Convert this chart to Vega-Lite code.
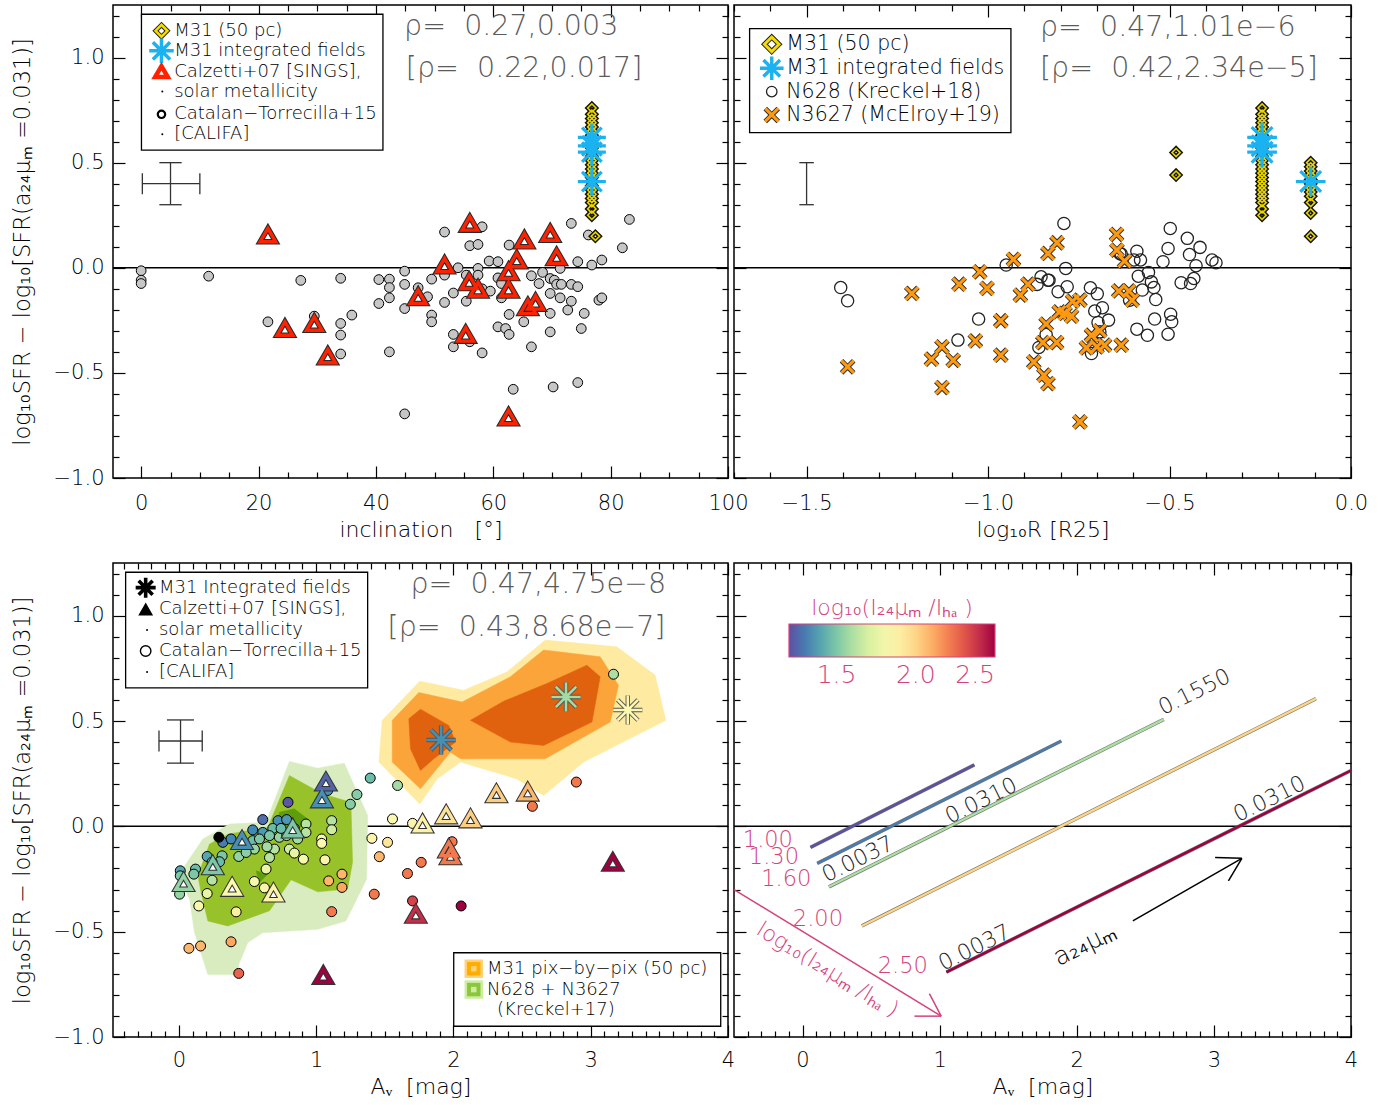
{
"$schema":"https://vega.github.io/schema/vega-lite/v6.json",
"padding":{"left":10,"top":3,"right":5,"bottom":2},
"background":"white",
"config":{
 "view":{"stroke":"black","strokeWidth":1.5},
 "font":"DejaVu Sans",
 "axis":{"grid":false,"domain":false,"ticks":true,"tickColor":"black","tickWidth":1.2,"labelFont":"DejaVu Sans","labelFontSize":21,"labelColor":"black","labelFontWeight":200,"titleFont":"DejaVu Sans","titleFontSize":22,"titleFontWeight":200,"titleColor":"black","labelOverlap":false,"labelFlush":false,"labelBound":false},
 "text":{"font":"DejaVu Sans"}
},
"datasets":{
 "tlc":[{"x":0,"y":-0.014},{"x":0,"y":-0.059},{"x":0,"y":-0.075},{"x":11.5,"y":-0.04},{"x":27.2,"y":-0.06},{"x":21.6,"y":-0.257},{"x":29.5,"y":-0.23},{"x":34,"y":-0.05},{"x":35.9,"y":-0.225},{"x":34,"y":-0.265},{"x":34,"y":-0.32},{"x":34,"y":-0.41},{"x":40.5,"y":-0.056},{"x":42.3,"y":-0.054},{"x":42.3,"y":-0.094},{"x":42.3,"y":-0.143},{"x":40.5,"y":-0.17},{"x":44.9,"y":-0.016},{"x":44.9,"y":-0.079},{"x":44.9,"y":-0.194},{"x":42.3,"y":-0.4},{"x":44.9,"y":-0.695},{"x":47.2,"y":-0.095},
  {"x":49.5,"y":-0.054},{"x":48.8,"y":-0.138},{"x":51.7,"y":0.17},{"x":51.7,"y":-0.035},{"x":51.7,"y":-0.165},{"x":49.5,"y":-0.225},{"x":49.5,"y":-0.257},{"x":53.2,"y":-0.12},{"x":53.2,"y":-0.317},{"x":53.2,"y":-0.376},{"x":54,"y":0},{"x":55.4,"y":-0.035},{"x":55.4,"y":-0.159},{"x":56,"y":0.105},{"x":57.4,"y":0.111},{"x":58.1,"y":0.195},{"x":57.4,"y":-0.003},{"x":57.4,"y":-0.035},{"x":58.1,"y":-0.1},{"x":59.5,"y":-0.111},{"x":56,"y":-0.352},{"x":58.1,"y":-0.405},{"x":59.3,"y":0.032},{"x":60.8,"y":0.029},{"x":60.8,"y":-0.048},{"x":61.4,"y":-0.075},{"x":61.4,"y":-0.143},{"x":62.7,"y":0.108},{"x":62.7,"y":-0.222},{"x":60.8,"y":-0.281},{"x":62.1,"y":-0.289},{"x":62.7,"y":-0.317},{"x":63.4,"y":-0.578},{"x":65.2,"y":-0.257},{"x":66.5,"y":-0.038},{"x":67.8,"y":-0.075},{"x":66.5,"y":-0.376},{"x":68.4,"y":-0.022},{"x":69.7,"y":-0.051},{"x":70.4,"y":-0.059},{"x":70.8,"y":-0.079},{"x":71.6,"y":-0.079},{"x":69.7,"y":-0.122},{"x":71.4,"y":-0.143},{"x":69.7,"y":-0.217},{"x":69.7,"y":-0.305},{"x":72.7,"y":-0.201},{"x":73.3,"y":-0.159},{"x":73.3,"y":-0.079},{"x":71.4,"y":-0.003},{"x":73.3,"y":0.211},{"x":74.4,"y":0.029},{"x":74.4,"y":-0.09},{"x":75.5,"y":-0.217},{"x":75,"y":-0.289},{"x":74.4,"y":-0.546},{"x":70.2,"y":-0.567},{"x":76.2,"y":0.156},{"x":76.8,"y":0.013},{"x":78.5,"y":0.037},{"x":78,"y":-0.154},{"x":78.5,"y":-0.143},{"x":82,"y":0.095},{"x":83.2,"y":0.23}],
 "tlt":[{"x":21.6,"y":0.156},{"x":24.5,"y":-0.289},{"x":29.5,"y":-0.265},{"x":31.8,"y":-0.42},{"x":47.2,"y":-0.138},{"x":56,"y":0.211},{"x":51.7,"y":0.013},{"x":55.9,"y":-0.067},{"x":57.4,"y":-0.102},{"x":55.3,"y":-0.317},{"x":62.6,"y":-0.019},{"x":64,"y":0.037},{"x":65.3,"y":0.132},{"x":62.6,"y":-0.102},{"x":65.9,"y":-0.186},{"x":67.2,"y":-0.165},{"x":69.7,"y":0.163},{"x":70.8,"y":0.052},{"x":62.6,"y":-0.71}],
 "m31d_tl":[{"x":76.8,"y":0.76},{"x":76.8,"y":0.73},{"x":76.8,"y":0.71},{"x":76.8,"y":0.69},{"x":76.8,"y":0.67},{"x":76.8,"y":0.65},{"x":76.8,"y":0.63},{"x":76.8,"y":0.61},{"x":76.8,"y":0.59},{"x":76.8,"y":0.57},{"x":76.8,"y":0.55},{"x":76.8,"y":0.53},{"x":76.8,"y":0.51},{"x":76.8,"y":0.49},{"x":76.8,"y":0.47},{"x":76.8,"y":0.45},{"x":76.8,"y":0.43},{"x":76.8,"y":0.41},{"x":76.8,"y":0.39},{"x":76.8,"y":0.37},{"x":76.8,"y":0.35},{"x":76.8,"y":0.33},{"x":76.8,"y":0.31},{"x":76.8,"y":0.28},{"x":76.8,"y":0.25},{"x":77.4,"y":0.15}],
 "m31a_tl":[{"x":76.8,"y":0.62},{"x":76.8,"y":0.58},{"x":76.8,"y":0.55},{"x":76.8,"y":0.41}],
 "m31d_tr":[{"x":-0.245,"y":0.76},{"x":-0.245,"y":0.73},{"x":-0.245,"y":0.71},{"x":-0.245,"y":0.69},{"x":-0.245,"y":0.67},{"x":-0.245,"y":0.65},{"x":-0.245,"y":0.63},{"x":-0.245,"y":0.61},{"x":-0.245,"y":0.59},{"x":-0.245,"y":0.57},{"x":-0.245,"y":0.55},{"x":-0.245,"y":0.53},{"x":-0.245,"y":0.51},{"x":-0.245,"y":0.49},{"x":-0.245,"y":0.47},{"x":-0.245,"y":0.45},{"x":-0.245,"y":0.43},{"x":-0.245,"y":0.41},{"x":-0.245,"y":0.39},{"x":-0.245,"y":0.37},{"x":-0.245,"y":0.35},{"x":-0.245,"y":0.33},{"x":-0.245,"y":0.31},{"x":-0.245,"y":0.28},{"x":-0.245,"y":0.25},
  {"x":-0.111,"y":0.5},{"x":-0.111,"y":0.48},{"x":-0.111,"y":0.46},{"x":-0.111,"y":0.44},{"x":-0.111,"y":0.42},{"x":-0.111,"y":0.4},{"x":-0.111,"y":0.38},{"x":-0.111,"y":0.36},{"x":-0.111,"y":0.34},{"x":-0.111,"y":0.31},{"x":-0.111,"y":0.26},{"x":-0.111,"y":0.15},{"x":-0.482,"y":0.548},{"x":-0.482,"y":0.441}],
 "m31a_tr":[{"x":-0.245,"y":0.62},{"x":-0.245,"y":0.58},{"x":-0.245,"y":0.55},{"x":-0.111,"y":0.41}],
 "trc":[{"x":-1.406,"y":-0.094},{"x":-1.387,"y":-0.157},{"x":-1.026,"y":-0.244},{"x":-1.083,"y":-0.344},{"x":-0.95,"y":0.013},{"x":-0.854,"y":-0.043},{"x":-0.865,"y":-0.079},{"x":-0.835,"y":-0.059},{"x":-0.84,"y":-0.317},{"x":-0.86,"y":-0.379},{"x":-0.791,"y":0.211},{"x":-0.786,"y":-0.003},{"x":-0.832,"y":-0.059},{"x":-0.807,"y":-0.114},{"x":-0.782,"y":-0.09},{"x":-0.718,"y":-0.095},{"x":-0.699,"y":-0.124},{"x":-0.706,"y":-0.206},{"x":-0.685,"y":-0.19},{"x":-0.668,"y":-0.249},{"x":-0.697,"y":-0.26},{"x":-0.692,"y":-0.305},{"x":-0.715,"y":-0.408},{"x":-0.633,"y":0.065},{"x":-0.59,"y":0.079},{"x":-0.58,"y":0.037},{"x":-0.598,"y":0.037},{"x":-0.61,"y":-0.154},{"x":-0.586,"y":-0.04},{"x":-0.575,"y":-0.106},{"x":-0.558,"y":-0.022},{"x":-0.55,"y":-0.067},{"x":-0.543,"y":-0.094},{"x":-0.538,"y":-0.151},{"x":-0.541,"y":-0.244},{"x":-0.59,"y":-0.292},{"x":-0.561,"y":-0.321},{"x":-0.504,"y":-0.316},{"x":-0.494,"y":-0.257},{"x":-0.497,"y":-0.221},{"x":-0.518,"y":0.029},{"x":-0.504,"y":0.092},{"x":-0.498,"y":0.187},{"x":-0.451,"y":0.14},{"x":-0.445,"y":0.063},{"x":-0.416,"y":0.097},{"x":-0.427,"y":0.01},{"x":-0.433,"y":-0.051},{"x":-0.442,"y":-0.075},{"x":-0.468,"y":-0.071},{"x":-0.383,"y":0.037},{"x":-0.372,"y":0.024},{"x":-0.637,"y":0.068}],
 "trx":[{"x":-1.387,"y":-0.471},{"x":-1.21,"y":-0.122},{"x":-1.08,"y":-0.078},{"x":-1.023,"y":-0.019},{"x":-1.003,"y":-0.098},{"x":-0.93,"y":0.04},{"x":-0.835,"y":0.068},{"x":-0.89,"y":-0.078},{"x":-0.911,"y":-0.13},{"x":-0.965,"y":-0.252},{"x":-1.035,"y":-0.348},{"x":-1.127,"y":-0.376},{"x":-1.156,"y":-0.435},{"x":-1.096,"y":-0.44},{"x":-1.127,"y":-0.57},{"x":-0.965,"y":-0.416},{"x":-0.84,"y":-0.268},{"x":-0.849,"y":-0.356},{"x":-0.874,"y":-0.448},{"x":-0.846,"y":-0.511},{"x":-0.835,"y":-0.551},{"x":-0.81,"y":0.119},{"x":-0.646,"y":0.159},{"x":-0.645,"y":0.084},{"x":-0.624,"y":0.032},{"x":-0.64,"y":-0.11},{"x":-0.612,"y":-0.11},{"x":-0.603,"y":-0.154},{"x":-0.767,"y":-0.159},{"x":-0.747,"y":-0.154},{"x":-0.804,"y":-0.21},{"x":-0.788,"y":-0.217},{"x":-0.77,"y":-0.23},{"x":-0.811,"y":-0.356},{"x":-0.715,"y":-0.321},{"x":-0.692,"y":-0.3},{"x":-0.729,"y":-0.381},{"x":-0.7,"y":-0.376},{"x":-0.679,"y":-0.368},{"x":-0.633,"y":-0.368},{"x":-0.747,"y":-0.733}],
 "blc":[{"x":1.394,"y":0.229,"c":1.46},{"x":1.297,"y":0.151,"c":1.52},{"x":1.249,"y":0.105,"c":1.52},{"x":1.593,"y":0.194,"c":1.58},{"x":1.556,"y":0.035,"c":1.85},{"x":1.702,"y":0.014,"c":1.87},{"x":1.406,"y":-0.057,"c":1.87},{"x":1.52,"y":-0.076,"c":1.93},{"x":1.46,"y":-0.144,"c":2.08},{"x":1.765,"y":-0.171,"c":2.22},{"x":1.665,"y":-0.224,"c":2.22},{"x":1.423,"y":-0.322,"c":2.22},{"x":1.702,"y":-0.354,"c":2.35},{"x":0.795,"y":0.114,"c":1.22},{"x":0.611,"y":0.032,"c":1.27},{"x":0.722,"y":0.027,"c":1.35},{"x":0.785,"y":0.032,"c":1.37},{"x":0.538,"y":-0.017,"c":1.33},{"x":0.611,"y":-0.029,"c":1.37},{"x":0.684,"y":-0.01,"c":1.46},{"x":0.32,"y":-0.076,"c":1.3},{"x":0.38,"y":-0.06,"c":1.33},{"x":0.538,"y":-0.068,"c":1.46},{"x":0.587,"y":-0.06,"c":1.5},{"x":0.66,"y":-0.044,"c":1.5},{"x":0.732,"y":-0.052,"c":1.55},{"x":0.785,"y":-0.044,"c":1.55},{"x":0.926,"y":0.011,"c":1.62},{"x":0.926,"y":-0.029,"c":1.62},{"x":0.865,"y":-0.06,"c":1.58},{"x":0.805,"y":-0.108,"c":1.68},{"x":0.841,"y":-0.127,"c":1.76},{"x":0.907,"y":-0.156,"c":1.83},{"x":0.696,"y":-0.108,"c":1.62},{"x":0.642,"y":-0.097,"c":1.58},{"x":0.66,"y":-0.148,"c":1.62},{"x":0.55,"y":-0.108,"c":1.56},{"x":0.478,"y":-0.084,"c":1.53},{"x":0.436,"y":-0.143,"c":1.55},{"x":0.315,"y":-0.14,"c":1.5},{"x":0.296,"y":-0.168,"c":1.46},{"x":0.206,"y":-0.143,"c":1.4},{"x":0.242,"y":-0.17,"c":1.5},{"x":0.121,"y":-0.203,"c":1.46},{"x":0.109,"y":-0.227,"c":1.5},{"x":0.01,"y":-0.211,"c":1.4},{"x":0.01,"y":-0.235,"c":1.5},{"x":0.005,"y":-0.322,"c":1.55},{"x":0.242,"y":-0.256,"c":1.62},{"x":0.206,"y":-0.319,"c":1.76},{"x":0.145,"y":-0.378,"c":1.83},{"x":0.417,"y":-0.406,"c":1.9},{"x":0.635,"y":-0.203,"c":1.76},{"x":0.55,"y":-0.262,"c":1.83},{"x":0.623,"y":-0.292,"c":1.87},{"x":1.04,"y":-0.06,"c":1.83},{"x":1.04,"y":-0.081,"c":1.85},{"x":1.064,"y":-0.159,"c":1.87},{"x":1.113,"y":0.027,"c":1.62},{"x":1.113,"y":-0.016,"c":1.68},{"x":1.091,"y":-0.259,"c":2.08},{"x":1.188,"y":-0.227,"c":2.08},{"x":1.188,"y":-0.29,"c":2.12},{"x":1.113,"y":-0.405,"c":2.22},{"x":0.073,"y":-0.579,"c":2.08},{"x":0.158,"y":-0.568,"c":2.08},{"x":0.38,"y":-0.548,"c":2.12},{"x":0.436,"y":-0.698,"c":2.27},{"x":0.744,"y":-0.01,"c":1.46},{"x":0.841,"y":-0.01,"c":1.5},{"x":0.49,"y":-0.124,"c":1.53},{"x":1.084,"y":0.17,"c":1.35},{"x":2.056,"y":-0.378,"c":2.5},{"x":1.99,"y":-0.073,"c":2.22},{"x":2.575,"y":0.095,"c":2.22},{"x":2.895,"y":0.21,"c":2.22},{"x":3.166,"y":0.722,"c":1.6}],
 "blk":[{"x":0.291,"y":-0.052}],
 "blt":[{"x":1.071,"y":0.21,"c":1.25},{"x":1.042,"y":0.13,"c":1.35},{"x":0.829,"y":-0.013,"c":1.5},{"x":0.46,"y":-0.068,"c":1.35},{"x":0.247,"y":-0.187,"c":1.5},{"x":0.034,"y":-0.267,"c":1.55},{"x":0.388,"y":-0.29,"c":1.85},{"x":0.689,"y":-0.317,"c":1.88},{"x":1.726,"y":-0.418,"c":2.4},{"x":1.052,"y":-0.708,"c":2.5},{"x":1.775,"y":0.011,"c":1.88},{"x":1.947,"y":0.054,"c":1.95},{"x":2.124,"y":0.035,"c":2.02},{"x":2.313,"y":0.154,"c":2.02},{"x":2.541,"y":0.162,"c":2.08},{"x":1.966,"y":-0.108,"c":2.22},{"x":1.978,"y":-0.14,"c":2.22},{"x":3.161,"y":-0.171,"c":2.5}],
 "bla":[{"x":1.91,"y":0.41,"c":1.35},{"x":2.82,"y":0.614,"c":1.58},{"x":3.27,"y":0.552,"c":1.85}],
 "blp":[
  {"p":"Y1","i":1,"x":1.457,"y":0.305},{"p":"Y1","i":2,"x":1.481,"y":0.503},{"p":"Y1","i":3,"x":1.755,"y":0.689},{"p":"Y1","i":4,"x":2.075,"y":0.646},{"p":"Y1","i":5,"x":2.39,"y":0.733},{"p":"Y1","i":6,"x":2.669,"y":0.884},{"p":"Y1","i":7,"x":3.19,"y":0.852},{"p":"Y1","i":8,"x":3.469,"y":0.718},{"p":"Y1","i":9,"x":3.547,"y":0.503},{"p":"Y1","i":10,"x":2.948,"y":0.305},{"p":"Y1","i":11,"x":2.657,"y":0.146},{"p":"Y1","i":12,"x":2.463,"y":0.225},{"p":"Y1","i":13,"x":2.051,"y":0.305},{"p":"Y1","i":14,"x":1.881,"y":0.225},{"p":"Y1","i":15,"x":1.755,"y":0.106},
  {"p":"O1","i":1,"x":1.554,"y":0.503},{"p":"O1","i":2,"x":1.748,"y":0.635},{"p":"O1","i":3,"x":2.063,"y":0.59},{"p":"O1","i":4,"x":2.415,"y":0.71},{"p":"O1","i":5,"x":2.657,"y":0.837},{"p":"O1","i":6,"x":3.069,"y":0.805},{"p":"O1","i":7,"x":3.202,"y":0.67},{"p":"O1","i":8,"x":3.142,"y":0.495},{"p":"O1","i":9,"x":2.669,"y":0.321},{"p":"O1","i":10,"x":2.051,"y":0.321},{"p":"O1","i":11,"x":1.978,"y":0.352},{"p":"O1","i":12,"x":1.76,"y":0.178},{"p":"O1","i":13,"x":1.554,"y":0.305},
  {"p":"O2a","i":1,"x":1.675,"y":0.511},{"p":"O2a","i":2,"x":1.76,"y":0.556},{"p":"O2a","i":3,"x":1.966,"y":0.479},{"p":"O2a","i":4,"x":2.015,"y":0.4},{"p":"O2a","i":5,"x":1.857,"y":0.321},{"p":"O2a","i":6,"x":1.76,"y":0.265},{"p":"O2a","i":7,"x":1.687,"y":0.368},
  {"p":"O2b","i":1,"x":2.124,"y":0.503},{"p":"O2b","i":2,"x":2.366,"y":0.594},{"p":"O2b","i":3,"x":2.681,"y":0.678},{"p":"O2b","i":4,"x":2.972,"y":0.765},{"p":"O2b","i":5,"x":3.069,"y":0.71},{"p":"O2b","i":6,"x":3.009,"y":0.495},{"p":"O2b","i":7,"x":2.657,"y":0.384},{"p":"O2b","i":8,"x":2.415,"y":0.4},
  {"p":"G1","i":1,"x":-0.007,"y":-0.235},{"p":"G1","i":2,"x":0.175,"y":-0.06},{"p":"G1","i":3,"x":0.369,"y":0.011},{"p":"G1","i":4,"x":0.635,"y":0.019},{"p":"G1","i":5,"x":0.805,"y":0.308},{"p":"G1","i":6,"x":1.011,"y":0.276},{"p":"G1","i":7,"x":1.205,"y":0.3},{"p":"G1","i":8,"x":1.375,"y":0.051},{"p":"G1","i":9,"x":1.367,"y":-0.251},{"p":"G1","i":10,"x":1.217,"y":-0.449},{"p":"G1","i":11,"x":1.011,"y":-0.489},{"p":"G1","i":12,"x":0.611,"y":-0.505},{"p":"G1","i":13,"x":0.502,"y":-0.552},{"p":"G1","i":14,"x":0.441,"y":-0.648},{"p":"G1","i":15,"x":0.417,"y":-0.703},{"p":"G1","i":16,"x":0.211,"y":-0.703},{"p":"G1","i":17,"x":0.114,"y":-0.505},{"p":"G1","i":18,"x":0.078,"y":-0.346},
  {"p":"G2","i":1,"x":0.138,"y":-0.235},{"p":"G2","i":2,"x":0.223,"y":-0.084},{"p":"G2","i":3,"x":0.356,"y":-0.037},{"p":"G2","i":4,"x":0.647,"y":-0.005},{"p":"G2","i":5,"x":0.805,"y":0.241},{"p":"G2","i":6,"x":1.047,"y":0.154},{"p":"G2","i":7,"x":1.253,"y":0.114},{"p":"G2","i":8,"x":1.265,"y":-0.171},{"p":"G2","i":9,"x":1.229,"y":-0.298},{"p":"G2","i":10,"x":1.011,"y":-0.311},{"p":"G2","i":11,"x":0.817,"y":-0.254},{"p":"G2","i":12,"x":0.66,"y":-0.401},{"p":"G2","i":13,"x":0.356,"y":-0.473},{"p":"G2","i":14,"x":0.211,"y":-0.449},{"p":"G2","i":15,"x":0.162,"y":-0.314},
  {"p":"G3a","i":1,"x":0.732,"y":0.067},{"p":"G3a","i":2,"x":0.841,"y":0.083},{"p":"G3a","i":3,"x":0.938,"y":0.035},{"p":"G3a","i":4,"x":0.829,"y":-0.044},{"p":"G3a","i":5,"x":0.708,"y":-0.029},
  {"p":"G3b","i":1,"x":0.562,"y":-0.211},{"p":"G3b","i":2,"x":0.647,"y":-0.227},{"p":"G3b","i":3,"x":0.587,"y":-0.267}],
 "brl":[{"c":1.0,"x":0.058,"y":-0.1},{"c":1.0,"x":1.253,"y":0.292},{"c":1.3,"x":0.107,"y":-0.176},{"c":1.3,"x":1.887,"y":0.405},{"c":1.6,"x":0.192,"y":-0.287},{"c":1.6,"x":2.635,"y":0.508},{"c":2.0,"x":0.432,"y":-0.473},{"c":2.0,"x":3.745,"y":0.606},{"c":2.5,"x":1.049,"y":-0.692},{"c":2.5,"x":4.0,"y":0.265}]
},
"columns":2,
"spacing":{"row":85,"column":6},"bounds":"flush",
"resolve":{"scale":{"color":"independent","stroke":"independent","fill":"independent"},"legend":{"color":"independent","stroke":"independent","fill":"independent"}},
"concat":[
 {"width":615,"height":473,
  "encoding":{"x":{"field":"x","type":"quantitative","scale":{"domain":[-4.8,100],"nice":false},"axis":null},
              "y":{"field":"y","type":"quantitative","scale":{"domain":[-1,1.25],"nice":false},"axis":null}},
  "layer":[
   {"data":{"values":[{"x":-4.8,"x2":100,"y":0}]},"mark":{"type":"rule","color":"black","strokeWidth":1.5},"encoding":{"x2":{"field":"x2"}}},
   {"data":{"values":[{"x":0.2,"x2":10,"y":0.4,"y2":0.4},{"x":5,"x2":5,"y":0.3,"y2":0.5},{"x":0.2,"x2":0.2,"y":0.35,"y2":0.45},{"x":10,"x2":10,"y":0.35,"y2":0.45},{"x":3.1,"x2":6.9,"y":0.3,"y2":0.3},{"x":3.1,"x2":6.9,"y":0.5,"y2":0.5}]},
    "mark":{"type":"rule","color":"#333","strokeWidth":1.3},
    "encoding":{"x":{"field":"x","type":"quantitative","scale":{"domain":[-4.8,100],"nice":false},
       "axis":{"orient":"bottom","values":[0,5,10,15,20,25,30,35,40,45,50,55,60,65,70,75,80,85,90,95,100],"format":"d","tickSize":{"condition":{"test":"datum.value % 20 === 0","value":-12},"value":-6},"labelExpr":"datum.value % 20 === 0 ? datum.label : ''","labelPadding":26,"title":"inclination\u00a0\u00a0\u00a0[°]","titlePadding":0}},
     "y":{"field":"y","type":"quantitative","scale":{"domain":[-1,1.25],"nice":false},
       "axis":{"orient":"left","values":[-1,-0.9,-0.8,-0.7,-0.6,-0.5,-0.4,-0.3,-0.2,-0.1,0,0.1,0.2,0.3,0.4,0.5,0.6,0.7,0.8,0.9,1,1.1,1.2],"format":".1f","tickSize":{"condition":{"test":"abs(datum.value*2 - round(datum.value*2)) < 0.001","value":-12},"value":-6},"labelExpr":"abs(datum.value*2 - round(datum.value*2)) < 0.001 ? datum.label : ''","labelPadding":21,"title":"log₁₀SFR − log₁₀[SFR(a₂₄μₘ =0.031)]","titleFontSize":22.5,"titlePadding":19}},
     "x2":{"field":"x2"},"y2":{"field":"y2"}}},
   {"data":{"name":"tlc"},"mark":{"type":"point","shape":"circle","filled":true,"fill":"#c6c6c6","stroke":"black","strokeWidth":1,"size":95,"opacity":1}},
   {"data":{"name":"m31d_tl"},"mark":{"type":"point","shape":"diamond","filled":false,"stroke":"#141400","strokeWidth":4.5,"size":70,"opacity":1}},
   {"data":{"name":"m31d_tl"},"mark":{"type":"point","shape":"diamond","filled":false,"stroke":"#e8d400","strokeWidth":1.6,"size":70,"opacity":1}},
   {"data":{"name":"m31a_tl"},"mark":{"type":"point","shape":"M-1,0L1,0M0,-1L0,1M-0.7,-0.7L0.7,0.7M-0.7,0.7L0.7,-0.7","filled":false,"stroke":"#1ab2f0","strokeWidth":3.2,"size":784,"opacity":1}},
   {"data":{"name":"tlt"},"mark":{"type":"point","shape":"triangle-up","filled":false,"fill":"white","stroke":"#2a2a2a","strokeWidth":5.5,"size":240,"opacity":1}},
   {"data":{"name":"tlt"},"mark":{"type":"point","shape":"triangle-up","filled":false,"stroke":"#ff2200","strokeWidth":3.4,"size":240,"opacity":1}},
   {"data":{"values":[{"x":0.05,"x2":41.2,"y":1.206,"y2":0.56}]},"mark":{"type":"rect","fill":"white","stroke":"black","strokeWidth":1.3},
    "encoding":{"x":{"field":"x","type":"quantitative","scale":{"domain":[-4.8,100],"nice":false},"axis":{"orient":"top","values":[0,5,10,15,20,25,30,35,40,45,50,55,60,65,70,75,80,85,90,95,100],"tickSize":{"condition":{"test":"datum.value % 20 === 0","value":-12},"value":-6},"labels":false,"title":null}},
     "y":{"field":"y","type":"quantitative","scale":{"domain":[-1,1.25],"nice":false},"axis":{"orient":"right","values":[-1,-0.9,-0.8,-0.7,-0.6,-0.5,-0.4,-0.3,-0.2,-0.1,0,0.1,0.2,0.3,0.4,0.5,0.6,0.7,0.8,0.9,1,1.1,1.2],"tickSize":{"condition":{"test":"abs(datum.value*2 - round(datum.value*2)) < 0.001","value":-12},"value":-6},"labels":false,"title":null}},
     "x2":{"field":"x2"},"y2":{"field":"y2"}}},
   {"data":{"values":[{"x":3.46,"y":1.127}]},"mark":{"type":"point","shape":"diamond","filled":false,"fill":"white","stroke":"#222","strokeWidth":4.5,"size":140,"opacity":1}},
   {"data":{"values":[{"x":3.46,"y":1.127}]},"mark":{"type":"point","shape":"diamond","filled":false,"stroke":"#f5dc00","strokeWidth":2.6,"size":140,"opacity":1}},
   {"data":{"values":[{"x":3.46,"y":1.032}]},"mark":{"type":"point","shape":"M-1,0L1,0M0,-1L0,1M-0.7,-0.7L0.7,0.7M-0.7,0.7L0.7,-0.7","filled":false,"stroke":"#1ab2f0","strokeWidth":3.5,"size":600,"opacity":1}},
   {"data":{"values":[{"x":3.46,"y":0.933}]},"mark":{"type":"point","shape":"triangle-up","filled":false,"fill":"white","stroke":"#ff2200","strokeWidth":4.5,"size":160,"opacity":1}},
   {"data":{"values":[{"x":3.6,"y":0.838},{"x":3.6,"y":0.635}]},"mark":{"type":"point","shape":"circle","filled":true,"fill":"black","size":4,"opacity":1}},
   {"data":{"values":[{"x":3.46,"y":0.73}]},"mark":{"type":"point","shape":"circle","filled":false,"stroke":"black","strokeWidth":2.2,"size":55,"opacity":1}},
   {"data":{"values":[{"x":5.62,"y":1.127,"t":"M31 (50 pc)"},{"x":5.62,"y":1.032,"t":"M31 integrated fields"},{"x":5.62,"y":0.933,"t":"Calzetti+07 [SINGS],"},{"x":5.62,"y":0.838,"t":"solar metallicity"},{"x":5.62,"y":0.73,"t":"Catalan−Torrecilla+15"},{"x":5.62,"y":0.635,"t":"[CALIFA]"}]},
    "mark":{"type":"text","align":"left","baseline":"middle","fontSize":18,"fontWeight":200,"color":"black"},"encoding":{"text":{"field":"t"}}},
   {"data":{"values":[{"x":44.8,"y":1.152,"t":"ρ=\u00a0\u00a00.27,0.003"},{"x":45.1,"y":0.952,"t":"[ρ=\u00a0\u00a00.22,0.017]"}]},
    "mark":{"type":"text","align":"left","baseline":"middle","fontSize":28.5,"fontWeight":200,"color":"#5a5a5a"},"encoding":{"text":{"field":"t"}}}
  ],
  "resolve":{"axis":{"x":"independent","y":"independent"}}
 },
 {"width":617,"height":473,
  "encoding":{"x":{"field":"x","type":"quantitative","scale":{"domain":[-1.7,0],"nice":false},"axis":null},
              "y":{"field":"y","type":"quantitative","scale":{"domain":[-1,1.25],"nice":false},"axis":null}},
  "layer":[
   {"data":{"values":[{"x":-1.7,"x2":0,"y":0}]},"mark":{"type":"rule","color":"black","strokeWidth":1.5},"encoding":{"x2":{"field":"x2"}}},
   {"data":{"values":[{"x":-1.5,"x2":-1.5,"y":0.3,"y2":0.5},{"x":-1.52,"x2":-1.48,"y":0.3,"y2":0.3},{"x":-1.52,"x2":-1.48,"y":0.5,"y2":0.5}]},
    "mark":{"type":"rule","color":"#333","strokeWidth":1.3},
    "encoding":{"x":{"field":"x","type":"quantitative","scale":{"domain":[-1.7,0],"nice":false},
       "axis":{"orient":"bottom","values":[-1.7,-1.6,-1.5,-1.4,-1.3,-1.2,-1.1,-1.0,-0.9,-0.8,-0.7,-0.6,-0.5,-0.4,-0.3,-0.2,-0.1,0],"format":".1f","tickSize":{"condition":{"test":"abs(datum.value*2 - round(datum.value*2)) < 0.001","value":-12},"value":-6},"labelExpr":"abs(datum.value*2 - round(datum.value*2)) < 0.001 ? datum.label : ''","labelPadding":26,"title":"log₁₀R [R25]","titlePadding":0}},
     "y":{"field":"y","type":"quantitative","scale":{"domain":[-1,1.25],"nice":false},
       "axis":{"orient":"left","values":[-1,-0.9,-0.8,-0.7,-0.6,-0.5,-0.4,-0.3,-0.2,-0.1,0,0.1,0.2,0.3,0.4,0.5,0.6,0.7,0.8,0.9,1,1.1,1.2],"tickSize":{"condition":{"test":"abs(datum.value*2 - round(datum.value*2)) < 0.001","value":-12},"value":-6},"labels":false,"title":null}},
     "x2":{"field":"x2"},"y2":{"field":"y2"}}},
   {"data":{"name":"trc"},"mark":{"type":"point","shape":"circle","filled":false,"stroke":"#222","strokeWidth":1.3,"size":150,"opacity":1}},
   {"data":{"name":"trx"},"mark":{"type":"point","shape":"M-1,-1L1,1M-1,1L1,-1","filled":false,"stroke":"#2a2a2a","strokeWidth":5,"size":150,"opacity":1}},
   {"data":{"name":"trx"},"mark":{"type":"point","shape":"M-1,-1L1,1M-1,1L1,-1","filled":false,"stroke":"#ff9a10","strokeWidth":3.2,"size":150,"opacity":1}},
   {"data":{"name":"m31d_tr"},"mark":{"type":"point","shape":"diamond","filled":false,"stroke":"#141400","strokeWidth":4.5,"size":66,"opacity":1}},
   {"data":{"name":"m31d_tr"},"mark":{"type":"point","shape":"diamond","filled":false,"stroke":"#e8d400","strokeWidth":1.6,"size":66,"opacity":1}},
   {"data":{"name":"m31a_tr"},"mark":{"type":"point","shape":"M-1,0L1,0M0,-1L0,1M-0.7,-0.7L0.7,0.7M-0.7,0.7L0.7,-0.7","filled":false,"stroke":"#1ab2f0","strokeWidth":3.2,"size":880,"opacity":1}},
   {"data":{"values":[{"x":-1.657,"x2":-0.937,"y":1.138,"y2":0.643}]},"mark":{"type":"rect","fill":"white","stroke":"black","strokeWidth":1.3},
    "encoding":{"x":{"field":"x","type":"quantitative","scale":{"domain":[-1.7,0],"nice":false},"axis":{"orient":"top","values":[-1.7,-1.6,-1.5,-1.4,-1.3,-1.2,-1.1,-1.0,-0.9,-0.8,-0.7,-0.6,-0.5,-0.4,-0.3,-0.2,-0.1,0],"tickSize":{"condition":{"test":"abs(datum.value*2 - round(datum.value*2)) < 0.001","value":-12},"value":-6},"labels":false,"title":null}},
     "y":{"field":"y","type":"quantitative","scale":{"domain":[-1,1.25],"nice":false},"axis":{"orient":"right","values":[-1,-0.9,-0.8,-0.7,-0.6,-0.5,-0.4,-0.3,-0.2,-0.1,0,0.1,0.2,0.3,0.4,0.5,0.6,0.7,0.8,0.9,1,1.1,1.2],"tickSize":{"condition":{"test":"abs(datum.value*2 - round(datum.value*2)) < 0.001","value":-12},"value":-6},"labels":false,"title":null}},
     "x2":{"field":"x2"},"y2":{"field":"y2"}}},
   {"data":{"values":[{"x":-1.596,"y":1.063}]},"mark":{"type":"point","shape":"diamond","filled":false,"fill":"white","stroke":"#222","strokeWidth":5,"size":210,"opacity":1}},
   {"data":{"values":[{"x":-1.596,"y":1.063}]},"mark":{"type":"point","shape":"diamond","filled":false,"stroke":"#f5dc00","strokeWidth":3,"size":210,"opacity":1}},
   {"data":{"values":[{"x":-1.596,"y":0.949}]},"mark":{"type":"point","shape":"M-1,0L1,0M0,-1L0,1M-0.7,-0.7L0.7,0.7M-0.7,0.7L0.7,-0.7","filled":false,"stroke":"#1ab2f0","strokeWidth":3.4,"size":560,"opacity":1}},
   {"data":{"values":[{"x":-1.596,"y":0.838}]},"mark":{"type":"point","shape":"circle","filled":false,"stroke":"#222","strokeWidth":1.3,"size":110,"opacity":1}},
   {"data":{"values":[{"x":-1.596,"y":0.727}]},"mark":{"type":"point","shape":"M-1,-1L1,1M-1,1L1,-1","filled":false,"stroke":"#2a2a2a","strokeWidth":5,"size":170,"opacity":1}},
   {"data":{"values":[{"x":-1.596,"y":0.727}]},"mark":{"type":"point","shape":"M-1,-1L1,1M-1,1L1,-1","filled":false,"stroke":"#ff9a10","strokeWidth":3.2,"size":170,"opacity":1}},
   {"data":{"values":[{"x":-1.556,"y":1.063,"t":"M31 (50 pc)"},{"x":-1.556,"y":0.949,"t":"M31 integrated fields"},{"x":-1.556,"y":0.838,"t":"N628 (Kreckel+18)"},{"x":-1.556,"y":0.727,"t":"N3627 (McElroy+19)"}]},
    "mark":{"type":"text","align":"left","baseline":"middle","fontSize":20.5,"fontWeight":200,"color":"black"},"encoding":{"text":{"field":"t"}}},
   {"data":{"values":[{"x":-0.857,"y":1.143,"t":"ρ=\u00a0\u00a00.47,1.01e−6"},{"x":-0.857,"y":0.948,"t":"[ρ=\u00a0\u00a00.42,2.34e−5]"}]},
    "mark":{"type":"text","align":"left","baseline":"middle","fontSize":28.5,"fontWeight":200,"color":"#5a5a5a"},"encoding":{"text":{"field":"t"}}}
  ],
  "resolve":{"axis":{"x":"independent","y":"independent"}}
 },
 {"width":615,"height":474,
  "encoding":{"x":{"field":"x","type":"quantitative","scale":{"domain":[-0.48,4],"nice":false},"axis":null},
              "y":{"field":"y","type":"quantitative","scale":{"domain":[-1,1.25],"nice":false},"axis":null}},
  "layer":[
   {"data":{"values":[{"x":-0.48,"x2":4,"y":0}]},"mark":{"type":"rule","color":"black","strokeWidth":1.5},"encoding":{"x2":{"field":"x2"}}},
   {"data":{"values":[{"x":-0.145,"x2":0.17,"y":0.405,"y2":0.405},{"x":0.012,"x2":0.012,"y":0.3,"y2":0.505},{"x":-0.145,"x2":-0.145,"y":0.355,"y2":0.455},{"x":0.17,"x2":0.17,"y":0.355,"y2":0.455},{"x":-0.087,"x2":0.11,"y":0.3,"y2":0.3},{"x":-0.087,"x2":0.11,"y":0.505,"y2":0.505}]},
    "mark":{"type":"rule","color":"#333","strokeWidth":1.3},
    "encoding":{"x":{"field":"x","type":"quantitative","scale":{"domain":[-0.48,4],"nice":false},
       "axis":{"orient":"bottom","values":[-0.4,-0.3,-0.2,-0.1,0,0.1,0.2,0.3,0.4,0.5,0.6,0.7,0.8,0.9,1,1.1,1.2,1.3,1.4,1.5,1.6,1.7,1.8,1.9,2,2.1,2.2,2.3,2.4,2.5,2.6,2.7,2.8,2.9,3,3.1,3.2,3.3,3.4,3.5,3.6,3.7,3.8,3.9,4],"format":".0f","tickSize":{"condition":{"test":"abs(datum.value - round(datum.value)) < 0.001","value":-12},"value":-6},"labelExpr":"abs(datum.value - round(datum.value)) < 0.001 ? datum.label : ''","labelPadding":24,"title":"Aᵥ\u00a0\u00a0[mag]","titlePadding":0}},
     "y":{"field":"y","type":"quantitative","scale":{"domain":[-1,1.25],"nice":false},
       "axis":{"orient":"left","values":[-1,-0.9,-0.8,-0.7,-0.6,-0.5,-0.4,-0.3,-0.2,-0.1,0,0.1,0.2,0.3,0.4,0.5,0.6,0.7,0.8,0.9,1,1.1,1.2],"format":".1f","tickSize":{"condition":{"test":"abs(datum.value*2 - round(datum.value*2)) < 0.001","value":-12},"value":-6},"labelExpr":"abs(datum.value*2 - round(datum.value*2)) < 0.001 ? datum.label : ''","labelPadding":21,"title":"log₁₀SFR − log₁₀[SFR(a₂₄μₘ =0.031)]","titleFontSize":22.5,"titlePadding":19}},
     "x2":{"field":"x2"},"y2":{"field":"y2"}}},
   {"data":{"name":"blp"},"transform":[{"filter":"datum.p === 'Y1'"}],"mark":{"type":"line","interpolate":"linear-closed","fill":"#feeaa0","stroke":"#feeaa0","strokeWidth":0.5},"encoding":{"order":{"field":"i","type":"quantitative"},"detail":{"field":"p","type":"nominal"}}},
   {"data":{"name":"blp"},"transform":[{"filter":"datum.p === 'O1'"}],"mark":{"type":"line","interpolate":"linear-closed","fill":"#fba43a","stroke":"#fba43a","strokeWidth":0.5},"encoding":{"order":{"field":"i","type":"quantitative"},"detail":{"field":"p","type":"nominal"}}},
   {"data":{"name":"blp"},"transform":[{"filter":"datum.p === 'O2a' || datum.p === 'O2b'"}],"mark":{"type":"line","interpolate":"linear-closed","fill":"#e0620f","stroke":"#e0620f","strokeWidth":0.5},"encoding":{"order":{"field":"i","type":"quantitative"},"detail":{"field":"p","type":"nominal"}}},
   {"data":{"name":"blp"},"transform":[{"filter":"datum.p === 'G1'"}],"mark":{"type":"line","interpolate":"linear-closed","fill":"#d9ecbf","stroke":"#d9ecbf","strokeWidth":0.5},"encoding":{"order":{"field":"i","type":"quantitative"},"detail":{"field":"p","type":"nominal"}}},
   {"data":{"name":"blp"},"transform":[{"filter":"datum.p === 'G2'"}],"mark":{"type":"line","interpolate":"linear-closed","fill":"#98c22a","stroke":"#98c22a","strokeWidth":0.5},"encoding":{"order":{"field":"i","type":"quantitative"},"detail":{"field":"p","type":"nominal"}}},
   {"data":{"name":"blp"},"transform":[{"filter":"datum.p === 'G3a' || datum.p === 'G3b'"}],"mark":{"type":"line","interpolate":"linear-closed","fill":"#5e9e0c","stroke":"#5e9e0c","strokeWidth":0.5},"encoding":{"order":{"field":"i","type":"quantitative"},"detail":{"field":"p","type":"nominal"}}},
   {"data":{"name":"blc"},"mark":{"type":"point","shape":"circle","filled":true,"stroke":"black","strokeWidth":1,"size":100,"opacity":1},
    "encoding":{"color":{"field":"c","type":"quantitative","scale":{"domain":[1.2,2.5],"scheme":"spectral","reverse":true,"clamp":true},"legend":null}}},
   {"data":{"name":"blk"},"mark":{"type":"point","shape":"circle","filled":true,"fill":"black","stroke":"black","strokeWidth":1,"size":100,"opacity":1}},
   {"data":{"name":"blt"},"mark":{"type":"point","shape":"triangle-up","filled":false,"fill":"white","stroke":"#333","strokeWidth":5.5,"size":240,"opacity":1}},
   {"data":{"name":"blt"},"mark":{"type":"point","shape":"triangle-up","filled":false,"strokeWidth":3.4,"size":240,"opacity":1},
    "encoding":{"stroke":{"field":"c","type":"quantitative","scale":{"domain":[1.2,2.5],"scheme":"spectral","reverse":true,"clamp":true},"legend":null}}},
   {"data":{"name":"bla"},"mark":{"type":"point","shape":"M-1,0L1,0M0,-1L0,1M-0.7,-0.7L0.7,0.7M-0.7,0.7L0.7,-0.7","filled":false,"stroke":"#555","strokeWidth":4.4,"size":850,"opacity":1}},
   {"data":{"name":"bla"},"mark":{"type":"point","shape":"M-1,0L1,0M0,-1L0,1M-0.7,-0.7L0.7,0.7M-0.7,0.7L0.7,-0.7","filled":false,"strokeWidth":2.6,"size":850,"opacity":1},
    "encoding":{"stroke":{"field":"c","type":"quantitative","scale":{"domain":[1.2,2.5],"scheme":"spectral","reverse":true,"clamp":true},"legend":null}}},
   {"data":{"values":[{"x":-0.388,"x2":1.375,"y":1.206,"y2":0.657},{"x":2.002,"x2":3.947,"y":-0.6,"y2":-0.949}]},"mark":{"type":"rect","fill":"white","stroke":"black","strokeWidth":1.3},
    "encoding":{"x":{"field":"x","type":"quantitative","scale":{"domain":[-0.48,4],"nice":false},"axis":{"orient":"top","values":[-0.4,-0.3,-0.2,-0.1,0,0.1,0.2,0.3,0.4,0.5,0.6,0.7,0.8,0.9,1,1.1,1.2,1.3,1.4,1.5,1.6,1.7,1.8,1.9,2,2.1,2.2,2.3,2.4,2.5,2.6,2.7,2.8,2.9,3,3.1,3.2,3.3,3.4,3.5,3.6,3.7,3.8,3.9,4],"tickSize":{"condition":{"test":"abs(datum.value - round(datum.value)) < 0.001","value":-12},"value":-6},"labels":false,"title":null}},
     "y":{"field":"y","type":"quantitative","scale":{"domain":[-1,1.25],"nice":false},"axis":{"orient":"right","values":[-1,-0.9,-0.8,-0.7,-0.6,-0.5,-0.4,-0.3,-0.2,-0.1,0,0.1,0.2,0.3,0.4,0.5,0.6,0.7,0.8,0.9,1,1.1,1.2],"tickSize":{"condition":{"test":"abs(datum.value*2 - round(datum.value*2)) < 0.001","value":-12},"value":-6},"labels":false,"title":null}},
     "x2":{"field":"x2"},"y2":{"field":"y2"}}},
   {"data":{"values":[{"x":-0.242,"y":1.133}]},"mark":{"type":"point","shape":"M-1,0L1,0M0,-1L0,1M-0.7,-0.7L0.7,0.7M-0.7,0.7L0.7,-0.7","filled":false,"stroke":"black","strokeWidth":3.6,"size":400,"opacity":1}},
   {"data":{"values":[{"x":-0.242,"y":1.03}]},"mark":{"type":"point","shape":"triangle-up","filled":true,"fill":"black","stroke":"black","strokeWidth":1.5,"size":150,"opacity":1}},
   {"data":{"values":[{"x":-0.232,"y":0.932},{"x":-0.232,"y":0.733}]},"mark":{"type":"point","shape":"circle","filled":true,"fill":"black","size":4,"opacity":1}},
   {"data":{"values":[{"x":-0.242,"y":0.832}]},"mark":{"type":"point","shape":"circle","filled":false,"stroke":"black","strokeWidth":1.4,"size":110,"opacity":1}},
   {"data":{"values":[{"x":2.148,"y":-0.676,"k":"a"},{"x":2.148,"y":-0.775,"k":"b"}]},"mark":{"type":"point","shape":"square","filled":true,"size":340,"opacity":1},
    "encoding":{"fill":{"field":"k","type":"nominal","scale":{"domain":["a","b"],"range":["#ffd27a","#cdeea0"]},"legend":null}}},
   {"data":{"values":[{"x":2.148,"y":-0.676,"k":"c"},{"x":2.148,"y":-0.775,"k":"d"}]},"mark":{"type":"point","shape":"square","filled":true,"size":180,"opacity":1},
    "encoding":{"color":{"field":"k","type":"nominal","scale":{"domain":["c","d"],"range":["#ffad00","#8cc63f"]},"legend":null}}},
   {"data":{"values":[{"x":2.148,"y":-0.676},{"x":2.148,"y":-0.775}]},"mark":{"type":"point","shape":"square","filled":true,"size":30,"opacity":1},
    "encoding":{"stroke":{"field":"y","type":"nominal","scale":{"domain":[-0.676,-0.775],"range":["#d43d6b","#0b7a0b"]},"legend":null},"strokeWidth":{"value":0},
     "fill":{"field":"y","type":"nominal","scale":{"domain":[-0.676,-0.775],"range":["#d43d6b","#0b7a0b"]},"legend":null}}},
   {"data":{"values":[{"x":-0.145,"y":1.133,"t":"M31 Integrated fields"},{"x":-0.145,"y":1.03,"t":"Calzetti+07 [SINGS],"},{"x":-0.145,"y":0.932,"t":"solar metallicity"},{"x":-0.145,"y":0.832,"t":"Catalan−Torrecilla+15"},{"x":-0.145,"y":0.733,"t":"[CALIFA]"},{"x":2.245,"y":-0.676,"t":"M31 pix−by−pix (50 pc)"},{"x":2.245,"y":-0.775,"t":"N628 + N3627"},{"x":2.318,"y":-0.873,"t":"(Kreckel+17)"}]},
    "mark":{"type":"text","align":"left","baseline":"middle","fontSize":18,"fontWeight":200,"color":"black"},"encoding":{"text":{"field":"t"}}},
   {"data":{"values":[{"x":1.687,"y":1.148,"t":"ρ=\u00a0\u00a00.47,4.75e−8"},{"x":1.52,"y":0.948,"t":"[ρ=\u00a0\u00a00.43,8.68e−7]"}]},
    "mark":{"type":"text","align":"left","baseline":"middle","fontSize":28.5,"fontWeight":200,"color":"#5a5a5a"},"encoding":{"text":{"field":"t"}}}
  ],
  "resolve":{"axis":{"x":"independent","y":"independent"}}
 },
 {"width":617,"height":474,
  "encoding":{"x":{"field":"x","type":"quantitative","scale":{"domain":[-0.5,4],"nice":false},"axis":null},
              "y":{"field":"y","type":"quantitative","scale":{"domain":[-1,1.25],"nice":false},"axis":null}},
  "layer":[
   {"data":{"values":[{"x":-0.5,"x2":4,"y":0}]},"mark":{"type":"rule","color":"black","strokeWidth":1.5},"encoding":{"x2":{"field":"x2"}}},
   {"data":{"name":"brl"},"mark":{"type":"line","strokeWidth":3.6,"strokeCap":"butt","color":"#555","opacity":0.8},"encoding":{"detail":{"field":"c","type":"nominal"}}},
   {"data":{"name":"brl"},"mark":{"type":"line","strokeWidth":2.4,"strokeCap":"butt"},
    "encoding":{"x":{"field":"x","type":"quantitative","scale":{"domain":[-0.5,4],"nice":false},
       "axis":{"orient":"bottom","values":[-0.4,-0.3,-0.2,-0.1,0,0.1,0.2,0.3,0.4,0.5,0.6,0.7,0.8,0.9,1,1.1,1.2,1.3,1.4,1.5,1.6,1.7,1.8,1.9,2,2.1,2.2,2.3,2.4,2.5,2.6,2.7,2.8,2.9,3,3.1,3.2,3.3,3.4,3.5,3.6,3.7,3.8,3.9,4],"format":".0f","tickSize":{"condition":{"test":"abs(datum.value - round(datum.value)) < 0.001","value":-12},"value":-6},"labelExpr":"abs(datum.value - round(datum.value)) < 0.001 ? datum.label : ''","labelPadding":24,"title":"Aᵥ\u00a0\u00a0[mag]","titlePadding":0}},
     "y":{"field":"y","type":"quantitative","scale":{"domain":[-1,1.25],"nice":false},
       "axis":{"orient":"left","values":[-1,-0.9,-0.8,-0.7,-0.6,-0.5,-0.4,-0.3,-0.2,-0.1,0,0.1,0.2,0.3,0.4,0.5,0.6,0.7,0.8,0.9,1,1.1,1.2],"tickSize":{"condition":{"test":"abs(datum.value*2 - round(datum.value*2)) < 0.001","value":-12},"value":-6},"labels":false,"title":null}},
     "detail":{"field":"c","type":"nominal"},
     "color":{"field":"c","type":"quantitative","scale":{"domain":[1.2,2.5],"scheme":"spectral","reverse":true,"clamp":true},
       "legend":{"orient":"none","legendX":55,"legendY":35,"direction":"horizontal","gradientLength":206,"gradientThickness":33,"title":"log₁₀(I₂₄μₘ /Iₕₐ )","titleAnchor":"middle","titleColor":"#d4437c","titleFontSize":22,"titleFontWeight":200,"titlePadding":4,"labelColor":"#d4437c","labelFontSize":25,"labelFontWeight":200,"labelOffset":6,"values":[1.5,2.0,2.5],"format":".1f","labelFlush":false,"gradientStrokeColor":"#d4437c","gradientStrokeWidth":1.2}}}},
   {"data":{"values":[{"x":-0.5,"y":-0.3,"x2":1.011,"y2":-0.901},{"x":0.925,"y":-0.794,"x2":1.011,"y2":-0.901},{"x":0.816,"y":-0.901,"x2":1.011,"y2":-0.901}]},"mark":{"type":"rule","color":"#d4437c","strokeWidth":1.5},"encoding":{"x2":{"field":"x2"},"y2":{"field":"y2"}}},
   {"data":{"values":[{"x":2.409,"y":-0.449,"x2":3.204,"y2":-0.152},{"x":3.009,"y":-0.148,"x2":3.204,"y2":-0.152},{"x":3.106,"y":-0.259,"x2":3.204,"y2":-0.152}]},"mark":{"type":"rule","color":"black","strokeWidth":1.5},"encoding":{"x2":{"field":"x2"},"y2":{"field":"y2"}}},
   {"data":{"values":[{"x":0.403,"y":-0.156,"t":"0.0037"},{"x":1.302,"y":0.122,"t":"0.0310"},{"x":2.858,"y":0.638,"t":"0.1550"},{"x":1.253,"y":-0.576,"t":"0.0037"},{"x":3.405,"y":0.13,"t":"0.0310"}]},
    "mark":{"type":"text","align":"center","baseline":"middle","fontSize":22,"fontWeight":200,"angle":333.6,"color":"#222"},
    "encoding":{"text":{"field":"t"},
     "x":{"field":"x","type":"quantitative","scale":{"domain":[-0.5,4],"nice":false},"axis":{"orient":"top","values":[-0.4,-0.3,-0.2,-0.1,0,0.1,0.2,0.3,0.4,0.5,0.6,0.7,0.8,0.9,1,1.1,1.2,1.3,1.4,1.5,1.6,1.7,1.8,1.9,2,2.1,2.2,2.3,2.4,2.5,2.6,2.7,2.8,2.9,3,3.1,3.2,3.3,3.4,3.5,3.6,3.7,3.8,3.9,4],"tickSize":{"condition":{"test":"abs(datum.value - round(datum.value)) < 0.001","value":-12},"value":-6},"labels":false,"title":null}},
     "y":{"field":"y","type":"quantitative","scale":{"domain":[-1,1.25],"nice":false},"axis":{"orient":"right","values":[-1,-0.9,-0.8,-0.7,-0.6,-0.5,-0.4,-0.3,-0.2,-0.1,0,0.1,0.2,0.3,0.4,0.5,0.6,0.7,0.8,0.9,1,1.1,1.2],"tickSize":{"condition":{"test":"abs(datum.value*2 - round(datum.value*2)) < 0.001","value":-12},"value":-6},"labels":false,"title":null}}}},
   {"data":{"values":[{"x":-0.253,"y":-0.064,"t":"1.00"},{"x":-0.209,"y":-0.146,"t":"1.30"},{"x":-0.119,"y":-0.251,"t":"1.60"},{"x":0.112,"y":-0.441,"t":"2.00"},{"x":0.731,"y":-0.663,"t":"2.50"}]},
    "mark":{"type":"text","align":"center","baseline":"middle","fontSize":22.5,"fontWeight":200,"color":"#d4437c"},"encoding":{"text":{"field":"t"}}},
   {"data":{"values":[{"x":0.184,"y":-0.68,"t":"log₁₀(I₂₄μₘ /Iₕₐ )"}]},
    "mark":{"type":"text","align":"center","baseline":"middle","fontSize":22,"fontWeight":200,"angle":31.3,"color":"#d4437c"},"encoding":{"text":{"field":"t"}}},
   {"data":{"values":[{"x":2.057,"y":-0.56,"t":"a₂₄μₘ"}]},
    "mark":{"type":"text","align":"center","baseline":"middle","fontSize":25,"fontWeight":200,"angle":333.6,"color":"black"},"encoding":{"text":{"field":"t"}}}
  ],
  "resolve":{"axis":{"x":"independent","y":"independent"}}
 }
]
}
